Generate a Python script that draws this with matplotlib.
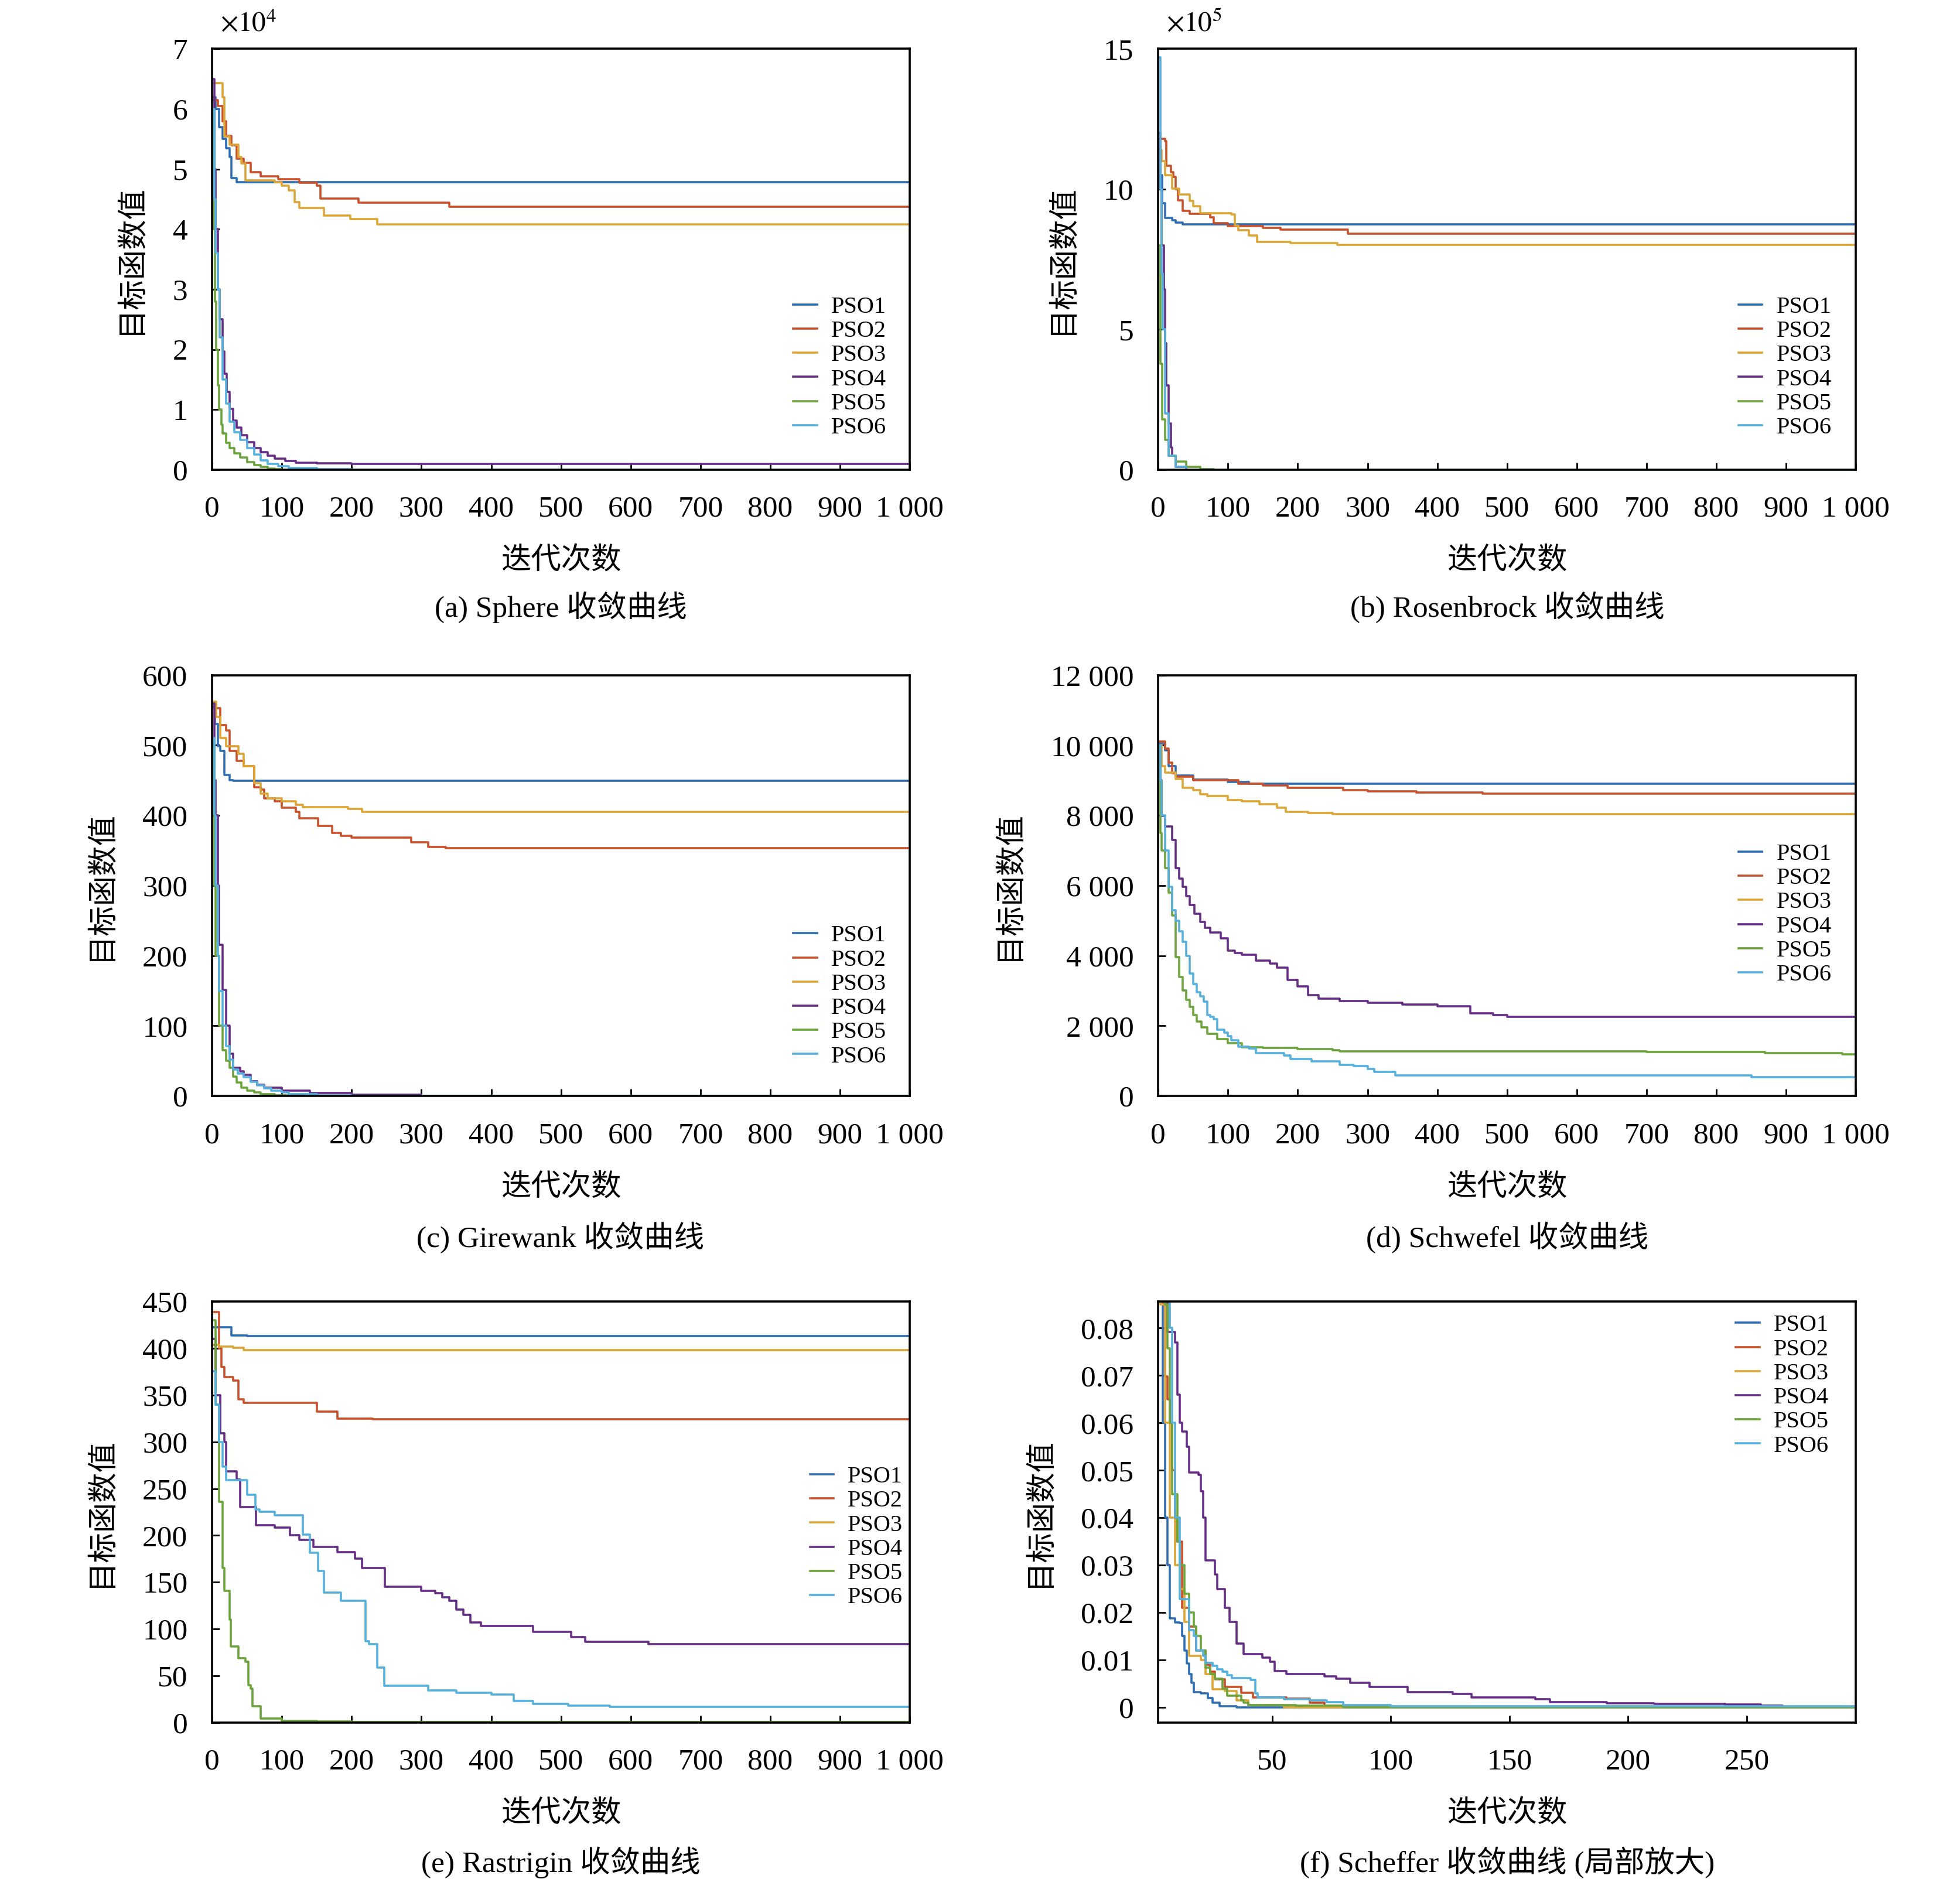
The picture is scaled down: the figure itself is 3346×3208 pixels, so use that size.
import numpy as np
import matplotlib
matplotlib.use("Agg")
import matplotlib.pyplot as plt
from matplotlib.ticker import FuncFormatter, MultipleLocator

plt.rcParams['font.family'] = ['Liberation Serif', 'Noto Sans CJK SC']
plt.rcParams['mathtext.fontset'] = 'stix'

names = ['PSO1', 'PSO2', 'PSO3', 'PSO4', 'PSO5', 'PSO6']
colors = ['#2E6DB4', '#C8502A', '#DBA537', '#652D86', '#6BA43A', '#55B0DC']

# (a) Sphere, values in units of 1e4 (best-so-far, step curves)
sph1 = [(0, 6.2), (5, 6.0), (10, 5.7), (15, 5.5), (20, 5.35), (25, 5.2), (28, 4.85), (35, 4.78), (1000, 4.78)]
sph2 = [(0, 6.15), (8, 6.05), (15, 5.8), (20, 5.55), (28, 5.4), (35, 5.17), (45, 5.1), (55, 4.95), (70, 4.88),
        (95, 4.83), (125, 4.77), (150, 4.72), (155, 4.51), (210, 4.44), (340, 4.37), (1000, 4.37)]
sph3 = [(0, 6.43), (15, 6.2), (18, 5.54), (25, 5.41), (38, 5.2), (42, 5.09), (48, 4.81), (90, 4.78), (100, 4.72),
        (110, 4.65), (118, 4.45), (125, 4.35), (160, 4.23), (198, 4.17), (237, 4.08), (1000, 4.08)]
sph4 = [(0, 6.5), (3, 5.0), (5, 4.0), (8, 3.0), (11, 2.5), (15, 1.97), (18, 1.6), (21, 1.3), (25, 1.01), (30, 0.82),
        (35, 0.70), (42, 0.57), (50, 0.46), (60, 0.36), (70, 0.29), (80, 0.23), (90, 0.185), (105, 0.15),
        (120, 0.12), (150, 0.105), (200, 0.095), (1000, 0.09)]
sph5 = [(0, 6.0), (2, 4.0), (4, 2.8), (6, 2.0), (8, 1.4), (10, 1.0), (13, 0.75), (15, 0.6), (20, 0.45), (25, 0.36),
        (32, 0.27), (40, 0.2), (50, 0.13), (60, 0.08), (70, 0.045), (80, 0.02), (90, 0.01), (100, 0.0), (1000, 0.0)]
sph6 = [(0, 6.0), (3, 4.5), (5, 3.6), (8, 3.0), (11, 2.2), (15, 1.5), (20, 1.1), (25, 0.8), (32, 0.62), (40, 0.5),
        (50, 0.36), (60, 0.25), (70, 0.16), (80, 0.1), (95, 0.06), (110, 0.03), (150, 0.01), (200, 0.0), (1000, 0.0)]

# (b) Rosenbrock, values in units of 1e5
ros1 = [(0, 12.0), (3, 10.5), (6, 9.5), (10, 8.97), (20, 8.9), (25, 8.8), (35, 8.74), (1000, 8.74)]
ros2 = [(0, 11.8), (10, 11.7), (12, 10.84), (18, 10.6), (22, 10.43), (25, 10.0), (28, 9.6), (35, 9.22), (45, 9.12),
        (75, 9.0), (80, 8.78), (100, 8.69), (150, 8.63), (175, 8.56), (272, 8.41), (1000, 8.41)]
ros3 = [(0, 11.4), (5, 11.0), (10, 10.5), (20, 10.03), (30, 9.81), (45, 9.59), (50, 9.4), (60, 9.15), (105, 9.1),
        (110, 8.7), (115, 8.53), (130, 8.34), (142, 8.13), (190, 8.07), (257, 8.01), (1000, 8.01)]
ros4 = [(0, 12.0), (3, 10.0), (5, 8.0), (8, 6.43), (10, 4.5), (12, 3.0), (15, 1.65), (18, 0.8), (20, 0.5),
        (25, 0.1), (40, 0.0), (1000, 0.0)]
ros5 = [(0, 8.0), (3, 3.78), (6, 1.8), (10, 1.06), (15, 0.5), (25, 0.29), (40, 0.1), (60, 0.02), (80, 0.0), (1000, 0.0)]
ros6 = [(0, 14.7), (3, 10.0), (5, 7.0), (7, 5.0), (10, 2.0), (15, 0.5), (25, 0.1), (40, 0.0), (1000, 0.0)]

# (c) Girewank
gir1 = [(0, 560), (4, 530), (8, 499), (12, 492), (18, 458), (25, 450), (30, 449), (1000, 449)]
gir2 = [(0, 555), (5, 553), (12, 529), (20, 521), (25, 492), (35, 478), (45, 470), (60, 440), (70, 437), (75, 424),
        (90, 420), (100, 411), (120, 405), (125, 396), (152, 385), (172, 375), (185, 371), (200, 368), (285, 362),
        (310, 355), (335, 353), (1000, 353)]
gir3 = [(0, 562), (6, 540), (12, 510), (20, 499), (38, 488), (45, 470), (60, 446), (70, 431), (80, 424), (100, 420),
        (120, 415), (130, 412), (195, 409), (215, 405), (1000, 405)]
gir4 = [(0, 560), (3, 450), (5, 400), (8, 300), (10, 216), (15, 151), (20, 100), (25, 60), (30, 40), (40, 35),
        (45, 30), (55, 21), (65, 16), (75, 12), (100, 8), (140, 4), (200, 2), (300, 0), (1000, 0)]
gir5 = [(0, 500), (3, 300), (5, 200), (10, 100), (15, 65), (20, 50), (25, 40), (30, 28), (35, 19.5), (42, 12),
        (50, 7.7), (60, 5), (70, 3), (90, 1), (120, 0), (1000, 0)]
gir6 = [(0, 510), (3, 400), (5, 300), (8, 200), (10, 150), (15, 100), (20, 71), (25, 52), (30, 38), (37, 32),
        (45, 27), (55, 20), (65, 15), (75, 11), (85, 8), (100, 5), (110, 3), (150, 1), (200, 0), (1000, 0)]

# (d) Schwefel
sch1 = [(0, 10050), (10, 9850), (15, 9400), (25, 9140), (50, 9020), (100, 8950), (130, 8900), (1000, 8900)]
sch2 = [(0, 10100), (10, 9900), (15, 9500), (20, 9200), (25, 9100), (50, 9000), (115, 8900), (150, 8856),
        (185, 8785), (265, 8714), (300, 8680), (370, 8655), (465, 8620), (1000, 8620)]
sch3 = [(0, 10000), (5, 9400), (10, 9220), (25, 9045), (35, 8785), (50, 8714), (60, 8600), (70, 8550), (100, 8430),
        (120, 8400), (145, 8312), (170, 8218), (183, 8100), (215, 8064), (250, 8028), (1000, 8028)]
sch4 = [(0, 10000), (3, 9000), (5, 7980), (10, 7685), (20, 7295), (25, 6500), (30, 6200), (35, 5970), (40, 5700),
        (45, 5440), (52, 5200), (60, 4966), (67, 4800), (75, 4670), (90, 4493), (100, 4138), (110, 4080),
        (120, 4020), (140, 3866), (160, 3783), (170, 3665), (185, 3310), (200, 3133), (215, 2873), (230, 2779),
        (260, 2708), (300, 2661), (350, 2601), (400, 2566), (447, 2365), (480, 2306), (500, 2258), (1000, 2258)]
sch5 = [(0, 10000), (3, 7500), (5, 7000), (10, 6500), (15, 5800), (20, 5143), (25, 3961), (30, 3400), (35, 3015),
        (40, 2750), (45, 2542), (50, 2300), (55, 2128), (62, 1950), (70, 1773), (85, 1620), (100, 1501),
        (120, 1395), (150, 1370), (200, 1336), (250, 1312), (260, 1265), (700, 1250), (870, 1230), (980, 1194),
        (1000, 1194)]
sch6 = [(0, 10000), (3, 9000), (5, 8000), (10, 7000), (15, 5971), (20, 5300), (25, 5000), (30, 4700), (35, 4400),
        (40, 4000), (45, 3500), (50, 3200), (55, 2956), (60, 2850), (65, 2700), (70, 2300), (75, 2250), (80, 2187),
        (85, 1892), (95, 1800), (100, 1700), (105, 1596), (115, 1400), (130, 1350), (140, 1218), (180, 1159),
        (190, 1064), (220, 981), (260, 887), (280, 850), (300, 769), (310, 686), (340, 580), (850, 532), (1000, 532)]

# (e) Rastrigin
ras1 = [(0, 422.7), (28, 414), (50, 413), (1000, 413)]
ras2 = [(0, 438.7), (10, 400), (13, 380), (18, 369.5), (30, 365.5), (38, 345.5), (45, 341.9), (150, 332.3),
        (180, 324.7), (230, 324), (1000, 324)]
ras3 = [(0, 403.5), (10, 402), (30, 400.7), (45, 397.9), (1000, 397.9)]
ras4 = [(0, 410), (5, 350), (12, 309.5), (18, 300), (20, 268.6), (35, 260), (40, 230.6), (63, 211), (90, 208.6),
        (112, 200), (125, 195), (145, 188), (180, 182), (205, 175), (215, 165.3), (248, 145.3), (300, 141),
        (320, 138), (330, 134), (340, 130), (350, 121), (360, 115), (370, 107), (385, 103), (460, 97),
        (515, 91.3), (535, 86.5), (625, 83.7), (1000, 83.7)]
ras5 = [(0, 430), (5, 340), (10, 236), (15, 165), (18, 141), (25, 110), (27, 81), (38, 69), (48, 65), (52, 40),
        (55, 36), (58, 17.2), (70, 4.4), (100, 2), (150, 1), (200, 0.5), (1000, 0.5)]
ras6 = [(0, 375.5), (5, 340), (10, 300), (15, 273.4), (20, 259.4), (50, 243.4), (62, 228), (68, 225.4),
        (90, 221.4), (130, 200.6), (140, 181.3), (152, 162), (160, 138.9), (185, 130), (220, 87), (225, 84),
        (237, 59), (247, 39.2), (310, 34), (350, 32), (400, 30), (432, 23), (460, 20), (510, 18), (570, 16.8),
        (1000, 16.8)]

# (f) Scheffer, zoomed part
shf1 = [(3, 0.095), (4, 0.06), (5, 0.04), (6, 0.03), (7, 0.0188), (9, 0.0179), (11, 0.0178), (12, 0.015),
        (13, 0.012), (14, 0.0092), (15, 0.007), (16, 0.0052), (17, 0.0032), (20, 0.003), (23, 0.002),
        (25, 0.001), (28, 0.0002), (35, 0.0), (296, 0.0)]
shf2 = [(3, 0.095), (4, 0.085), (5, 0.0698), (6, 0.065), (7, 0.06), (8, 0.05), (9, 0.04), (10, 0.035),
        (12, 0.021), (15, 0.017), (18, 0.012), (22, 0.009), (24, 0.0075), (26, 0.0059), (30, 0.0043),
        (37, 0.0031), (42, 0.0021), (56, 0.0018), (66, 0.001), (72, 0.0002), (100, 0.0001), (296, 0.0001)]
shf3 = [(2, 0.095), (3, 0.085), (5, 0.06), (7, 0.04), (9, 0.03), (11, 0.025), (13, 0.018), (15, 0.0108),
        (20, 0.01), (22, 0.007), (25, 0.0038), (30, 0.0035), (35, 0.0015), (40, 0.0005), (55, 0.0), (296, 0.0)]
shf4 = [(5, 0.095), (6, 0.0792), (9, 0.077), (10, 0.066), (11, 0.06), (12, 0.0582), (14, 0.055), (15, 0.0495),
        (19, 0.049), (20, 0.0456), (21, 0.04), (22, 0.031), (26, 0.028), (27, 0.025), (30, 0.021), (32, 0.018),
        (35, 0.0135), (38, 0.0112), (46, 0.0105), (49, 0.0096), (51, 0.0076), (56, 0.007), (72, 0.0065),
        (77, 0.006), (83, 0.0052), (91, 0.0043), (107, 0.0032), (126, 0.0028), (134, 0.0021), (161, 0.0017),
        (167, 0.0011), (191, 0.0009), (211, 0.0007), (241, 0.0006), (256, 0.0003), (265, 0.0001), (296, 0.0001)]
shf5 = [(4, 0.095), (5, 0.085), (6, 0.0757), (7, 0.06), (8, 0.045), (10, 0.035), (11, 0.03), (13, 0.024),
        (15, 0.02), (17, 0.0171), (18, 0.015), (20, 0.012), (22, 0.0084), (24, 0.007), (26, 0.006), (29, 0.004),
        (31, 0.0025), (37, 0.0015), (38, 0.001), (40, 0.0005), (60, 0.0003), (80, 0.0), (296, 0.0)]
shf6 = [(5, 0.095), (7, 0.08), (8, 0.06), (9, 0.04), (11, 0.0228), (15, 0.0163), (17, 0.015), (18, 0.012),
        (21, 0.0108), (22, 0.0094), (25, 0.0088), (27, 0.008), (29, 0.0075), (31, 0.0068), (33, 0.0062),
        (41, 0.0058), (43, 0.003), (44, 0.0021), (55, 0.0017), (66, 0.0015), (73, 0.0011), (80, 0.0005),
        (100, 0.0002), (296, 0.0002)]

captions = ['(a) Sphere 收敛曲线', '(b) Rosenbrock 收敛曲线', '(c) Girewank 收敛曲线',
            '(d) Schwefel 收敛曲线', '(e) Rastrigin 收敛曲线', '(f) Scheffer 收敛曲线 (局部放大)']

TICK_FS = 18.5
LABEL_FS = 18.5


def thousands(v, pos):
    return f'{int(round(v)):,}'.replace(',', ' ')


def draw_panel(ax, series, xlim, ylim, ystep, legend_xy, xstep=100, yfmt=None, offset=None):
    for s, c, n in zip(series, colors, names):
        xs, ys = zip(*s)
        ax.plot(xs, ys, drawstyle='steps-post', color=c, lw=1.3, label=n)
    ax.set_xlim(*xlim)
    ax.set_ylim(*ylim)
    ax.xaxis.set_major_locator(MultipleLocator(xstep))
    ax.yaxis.set_major_locator(MultipleLocator(ystep))
    ax.xaxis.set_major_formatter(FuncFormatter(thousands))
    ax.yaxis.set_major_formatter(FuncFormatter(yfmt if yfmt else thousands))
    ax.tick_params(direction='in', length=4.5, width=1.0, labelsize=TICK_FS, pad=15,
                   top=False, right=False)
    ax.tick_params(axis='x', pad=16)
    for sp in ax.spines.values():
        sp.set_linewidth(1.3)
    ax.set_xlabel('迭代次数', fontsize=LABEL_FS, labelpad=15)
    ax.set_ylabel('目标函数值', fontsize=LABEL_FS, labelpad=17)
    ax.legend(loc='center left', bbox_to_anchor=legend_xy, frameon=False, fontsize=14.5,
              borderaxespad=0, borderpad=0, handlelength=1.0, handletextpad=0.6, labelspacing=0.1)
    if offset:
        ax.text(0.012, 1.058, offset, transform=ax.transAxes, fontsize=17, ha='left', va='center')


fig = plt.figure(figsize=(16.73, 16.04), dpi=200)
lefts = [0.1082, 0.5909]
bottoms = [0.75, 0.4167, 0.0833]
W, H = 0.3560, 0.224
axs = [fig.add_axes([lefts[i % 2], bottoms[i // 2], W, H]) for i in range(6)]

draw_panel(axs[0], [sph1, sph2, sph3, sph4, sph5, sph6], (0, 1000), (0, 7), 1, (0.833, 0.243),
           offset=r'$\times10^{4}$')
draw_panel(axs[1], [ros1, ros2, ros3, ros4, ros5, ros6], (0, 1000), (0, 15), 5, (0.832, 0.243),
           offset=r'$\times10^{5}$')
draw_panel(axs[2], [gir1, gir2, gir3, gir4, gir5, gir6], (0, 1000), (0, 600), 100, (0.833, 0.237))
draw_panel(axs[3], [sch1, sch2, sch3, sch4, sch5, sch6], (0, 1000), (0, 12000), 2000, (0.832, 0.431))
draw_panel(axs[4], [ras1, ras2, ras3, ras4, ras5, ras6], (0, 1000), (0, 450), 50, (0.857, 0.44))
draw_panel(axs[5], [shf1, shf2, shf3, shf4, shf5, shf6], (2, 296), (-0.0032, 0.0856), 0.01, (0.828, 0.80),
           xstep=50, yfmt=lambda v, p: '0' if abs(v) < 1e-9 else f'{v:.2f}')

cap_x = [0.286, 0.769]
cap_y = [0.6767, 0.3413, 0.0087]
for i, cap in enumerate(captions):
    fig.text(cap_x[i % 2], cap_y[i // 2], cap, fontsize=LABEL_FS, ha='center', va='center')

fig.savefig('out.png', dpi=200)
